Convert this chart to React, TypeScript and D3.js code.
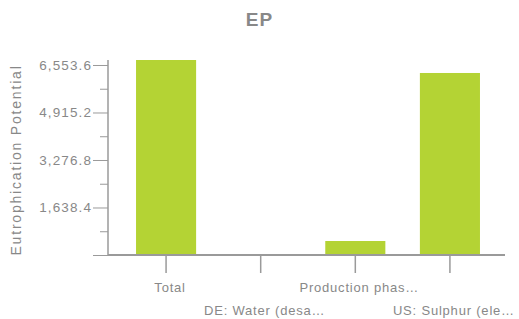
import React, { useEffect, useRef } from 'react'
import * as d3 from 'd3'

const categories = ['Total', 'DE: Water (desa…', 'Production phas…', 'US: Sulphur (ele…']
const values = [6726, 6, 483, 6278]
const majorTicks = [0, 1638.4, 3276.8, 4915.2, 6553.6]
const minorTicks = [819.2, 2457.6, 4096, 5734.4]

const W = 519
const H = 319
const BAR = '#b4d334'
const GREY = '#9a9a9a'
const TEXT = '#888888'
const FONT = '"Liberation Sans", Arial, sans-serif'

export default function App() {
  const ref = useRef<SVGSVGElement>(null)

  useEffect(() => {
    const svg = d3.select(ref.current)
    svg.selectAll('*').remove()

    const x = d3.scaleBand().domain(categories).range([119, 497]).paddingInner(0.365).paddingOuter(0.18)
    const y = d3.scaleLinear().domain([0, d3.max(values) as number]).range([255, 60])

    // title
    svg.append('text')
      .attr('x', W / 2)
      .attr('y', 26)
      .attr('text-anchor', 'middle')
      .style('font-family', FONT)
      .style('font-size', '19px')
      .style('font-weight', 'bold')
      .style('letter-spacing', '1px')
      .attr('fill', TEXT)
      .text('EP')

    // y title
    svg.append('text')
      .attr('transform', 'translate(21,160) rotate(-90)')
      .attr('text-anchor', 'middle')
      .style('font-family', FONT)
      .style('font-size', '14px')
      .style('letter-spacing', '1.8px')
      .attr('fill', TEXT)
      .text('Eutrophication Potential')

    // bars
    svg.append('g')
      .selectAll('rect')
      .data(values)
      .enter()
      .append('rect')
      .attr('x', (d, i) => x(categories[i]) as number)
      .attr('width', x.bandwidth())
      .attr('y', d => y(d))
      .attr('height', d => y(0) - y(d))
      .attr('fill', BAR)

    // y axis
    const yAxis = svg.append('g')
      .attr('transform', 'translate(108,0)')
      .call(d3.axisLeft(y).tickValues(majorTicks).tickSize(15).tickPadding(1).tickFormat(d => d === 0 ? '' : d3.format(',.1f')(d as number)))
    yAxis.select('.domain').remove()
    yAxis.selectAll('line').attr('stroke', GREY)
    yAxis.selectAll('text')
      .style('font-family', FONT)
      .style('font-size', '13.5px')
      .style('letter-spacing', '1.1px')
      .attr('fill', TEXT)

    const yMinor = svg.append('g')
      .attr('transform', 'translate(108,0)')
      .call(d3.axisLeft(y).tickValues(minorTicks).tickSize(8).tickFormat(() => ''))
    yMinor.select('.domain').remove()
    yMinor.selectAll('line').attr('stroke', GREY)

    svg.append('line')
      .attr('x1', 108).attr('x2', 108)
      .attr('y1', y.range()[1]).attr('y2', y(0))
      .attr('stroke', GREY).attr('stroke-width', 1.5)

    // x axis
    const xAxis = svg.append('g')
      .attr('transform', 'translate(0,255)')
      .call(d3.axisBottom(x).tickSize(18).tickFormat(() => ''))
    xAxis.select('.domain').remove()
    xAxis.selectAll('line').attr('stroke', GREY).attr('stroke-width', 1.5)

    svg.append('line')
      .attr('x1', 108).attr('x2', 505)
      .attr('y1', 255).attr('y2', 255)
      .attr('stroke', GREY).attr('stroke-width', 2)

    svg.append('g')
      .selectAll('text')
      .data(categories)
      .enter()
      .append('text')
      .attr('x', d => (x(d) as number) + x.bandwidth() / 2 + 4)
      .attr('y', (d, i) => i % 2 === 0 ? 292 : 315)
      .attr('text-anchor', 'middle')
      .style('font-family', FONT)
      .style('font-size', '13px')
      .style('letter-spacing', '0.8px')
      .attr('fill', TEXT)
      .text(d => d)
  }, [])

  return (
    <svg ref={ref} width={W} height={H} style={{ position: 'absolute', left: 0, top: 0, background: '#fff' }} />
  )
}
